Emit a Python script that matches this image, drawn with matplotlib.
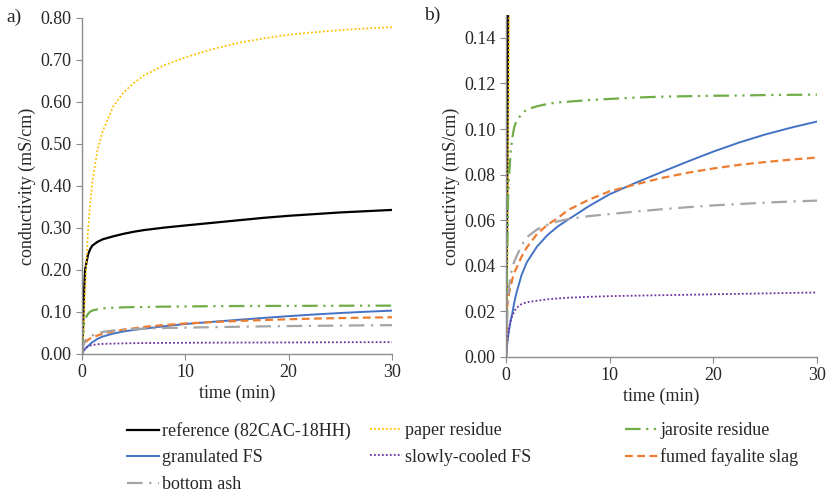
import matplotlib
matplotlib.use("Agg")
import matplotlib.pyplot as plt
import numpy as np

plt.rcParams['font.family'] = ['Liberation Serif', 'DejaVu Serif']

# time grid (min)
t = [0, 0.1, 0.2, 0.3, 0.45, 0.6, 0.8, 1.0, 1.5, 2, 3, 4, 5, 6, 8, 10,
     12.5, 15, 17.5, 20, 22.5, 25, 27.5, 30]

reference = [0, 0.06, 0.15, 0.20, 0.22, 0.238, 0.25, 0.258, 0.267, 0.273, 0.280, 0.286,
             0.291, 0.295, 0.301, 0.306, 0.312, 0.318, 0.324, 0.329, 0.333, 0.337, 0.340, 0.343]
paper = [0, 0.03, 0.08, 0.15, 0.23, 0.30, 0.36, 0.41, 0.485, 0.53, 0.588, 0.622,
         0.645, 0.663, 0.688, 0.706, 0.725, 0.74, 0.751, 0.76, 0.766, 0.771, 0.775, 0.778]
jarosite = [0, 0.04, 0.07, 0.08, 0.09, 0.096, 0.101, 0.1035, 0.1065, 0.1086, 0.110, 0.111,
            0.1117, 0.112, 0.1127, 0.1132, 0.1138, 0.1142, 0.1144, 0.1146, 0.1147, 0.1149, 0.1150, 0.1151]
granulated = [0, 0.005, 0.009, 0.012, 0.016, 0.019, 0.024, 0.028, 0.036, 0.0415, 0.0485, 0.0535,
              0.0573, 0.0603, 0.0662, 0.0714, 0.0764, 0.0811, 0.0857, 0.0901, 0.0941, 0.0976, 0.1006, 0.1033]
slowly = [0, 0.006, 0.010, 0.013, 0.016, 0.018, 0.020, 0.0215, 0.0232, 0.024, 0.0247, 0.0253,
          0.0257, 0.026, 0.0264, 0.0267, 0.0269, 0.0271, 0.0273, 0.0275, 0.0277, 0.0279, 0.0281, 0.0283]
fumed = [0, 0.022, 0.025, 0.028, 0.031, 0.034, 0.037, 0.039, 0.044, 0.048, 0.054, 0.058,
         0.061, 0.0645, 0.069, 0.0727, 0.0757, 0.0785, 0.0808, 0.0827, 0.0843, 0.0855, 0.0866, 0.0875]
bottom_ash = [0, 0.015, 0.025, 0.031, 0.036, 0.039, 0.042, 0.044, 0.049, 0.0525, 0.056, 0.058,
              0.0595, 0.0605, 0.0618, 0.0627, 0.0638, 0.0648, 0.0657, 0.0665, 0.0671, 0.0677, 0.0682, 0.0686]

series = [
    ("reference (82CAC-18HH)", reference, "#000000", "-", 1.6),
    ("paper residue", paper, "#FFC000", (0, (1, 1.2)), 1.3),
    ("jarosite residue", jarosite, "#70AD47", (0, (7, 2.5, 1, 2.5, 1, 2.5)), 1.6),
    ("granulated FS", granulated, "#4472C4", "-", 1.4),
    ("slowly-cooled FS", slowly, "#7030A0", (0, (1, 1.2)), 1.3),
    ("fumed fayalite slag", fumed, "#ED7D31", (0, (3.5, 2)), 1.6),
    ("bottom ash", bottom_ash, "#A5A5A5", (0, (7, 3, 1, 3)), 1.6),
]

fig = plt.figure(figsize=(8.29, 4.92), dpi=100)
ax1 = fig.add_axes([0.0989, 0.2805, 0.374, 0.683])
ax2 = fig.add_axes([0.6104, 0.2744, 0.3751, 0.695])

lines = []
for ax in (ax1, ax2):
    for name, vals, color, ls, lw in series:
        ln, = ax.plot(t, vals, color=color, linestyle=ls, linewidth=lw, label=name)
        if ax is ax1:
            lines.append(ln)
    ax.set_xlim(0, 30)
    ax.set_xticks([0, 10, 20, 30])
    for side in ("top", "right"):
        ax.spines[side].set_visible(False)
    for side in ("left", "bottom"):
        ax.spines[side].set_color("#8c8c8c")
        ax.spines[side].set_linewidth(1.0)
    ax.tick_params(direction="out", length=4, color="#8c8c8c", labelsize=13,
                   labelcolor="#262626")
    ax.set_xlabel("time (min)", fontsize=13, color="#262626", labelpad=2)
    ax.set_ylabel("conductivity (mS/cm)", fontsize=13, color="#262626", labelpad=3)

ax1.set_ylim(0, 0.8)
ax1.set_yticks(np.arange(0, 0.81, 0.1))
ax1.set_yticklabels(["%.2f" % v for v in np.arange(0, 0.81, 0.1)])
ax2.set_ylim(0, 0.15)
ax2.set_yticks(np.arange(0, 0.141, 0.02))
ax2.set_yticklabels(["%.2f" % v for v in np.arange(0, 0.141, 0.02)])

fig.text(0.008, 0.965, "a)", fontsize=14, va="center", color="#262626")
fig.text(0.512, 0.968, "b)", fontsize=14, va="center", color="#262626")

# legend laid out in three columns, row-major order
cols = [[0, 3, 6], [1, 4], [2, 5]]
col_x = [0.153, 0.446, 0.754]
for idx, x in zip(cols, col_x):
    leg = fig.legend([lines[i] for i in idx], [series[i][0] for i in idx],
                     loc="upper left", bbox_to_anchor=(x, 0.142), frameon=False,
                     fontsize=13, handlelength=1.8, handletextpad=0.15,
                     labelspacing=0.52, borderaxespad=0, borderpad=0)
    for txt in leg.get_texts():
        txt.set_color("#262626")

fig.savefig("out.png", dpi=100)
